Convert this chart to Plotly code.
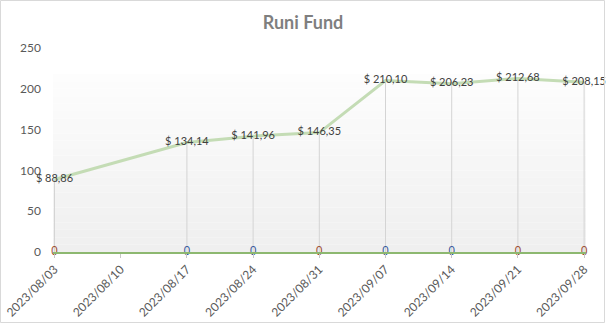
import plotly.graph_objects as go

dates = ["2023-08-03", "2023-08-17", "2023-08-24", "2023-08-31",
         "2023-09-07", "2023-09-14", "2023-09-21", "2023-09-28"]
values = [88.86, 134.14, 141.96, 146.35, 210.10, 206.23, 212.68, 208.15]
zero_values = [0, 0, 0, 0, 0, 0, 0, 0]
zero_colors = ["#9C4A2E", "#34569C", "#34569C", "#9C4A2E",
               "#34569C", "#34569C", "#9C4A2E", "#9C4A2E"]
tick_dates = ["2023-08-03", "2023-08-10", "2023-08-17", "2023-08-24", "2023-08-31",
              "2023-09-07", "2023-09-14", "2023-09-21", "2023-09-28"]
tick_labels = [d.replace("-", "/") for d in tick_dates]
y_ticks = [0, 50, 100, 150, 200, 250]

FONT = "Lato"
W, H = 606, 324
L, R, T, B = 53, 20, 48, 72
pw, ph = W - L - R, H - T - B

fig = go.Figure()

# gradient plot background (top of visible area ~ y=74px)
top_frac = (H - B - 74) / ph
n = 24
for i in range(n):
    f0 = top_frac * i / n
    f1 = top_frac * (i + 1) / n
    t = i / (n - 1)
    c = int(round(0xEF + (0xFD - 0xEF) * t))
    fig.add_shape(type="rect", xref="paper", yref="paper", x0=0, x1=1, y0=f0, y1=f1,
                  fillcolor=f"rgb({c},{c},{c})", line_width=0, layer="below")

# drop lines
dx, dy = [], []
for d, v in zip(dates, values):
    dx += [d, d, None]
    dy += [0, v, None]
fig.add_trace(go.Scatter(x=dx, y=dy, mode="lines", line=dict(color="#d4d4d4", width=1),
                         hoverinfo="skip", showlegend=False))

fig.add_trace(go.Scatter(
    x=dates, y=values, mode="lines+text",
    line=dict(color="#C4DCB5", width=3),
    text=["$ " + f"{v:.2f}".replace(".", ",") for v in values],
    textposition="middle center", cliponaxis=False,
    textfont=dict(family=FONT, size=11, color="#404040"),
    showlegend=False))

fig.add_trace(go.Scatter(
    x=dates, y=zero_values, mode="text",
    text=[str(v) for v in zero_values],
    textposition="middle center", cliponaxis=False,
    textfont=dict(family="Open Sans", size=12, color=zero_colors),
    showlegend=False))

# chart border
fig.add_shape(type="rect", xref="paper", yref="paper",
              x0=-(L - 0.5) / pw, x1=1 + (R - 1.5) / pw,
              y0=-(B - 1.5) / ph, y1=1 + (T - 0.5) / ph,
              line=dict(color="#d9d9d9", width=1), fillcolor="rgba(0,0,0,0)")

fig.update_layout(
    width=W, height=H,
    margin=dict(l=L, r=R, t=T, b=B),
    paper_bgcolor="white", plot_bgcolor="rgba(0,0,0,0)",
    title=dict(text="<b>Runi Fund</b>", x=0.5, xanchor="center", y=1 - 23 / H, yanchor="middle",
               font=dict(family=FONT, size=18, color="#7f7f7f")),
    xaxis=dict(type="date", range=["2023-08-02 20:10", "2023-09-28 04:50"],
               tickvals=tick_dates, ticktext=tick_labels, tickangle=-45, automargin=False,
               showgrid=False, zeroline=False, showline=True, linecolor="#8DB870", linewidth=1.5,
               ticks="outside", ticklen=4, tickcolor="#c8c8c8",
               tickfont=dict(family=FONT, size=12, color="#595959")),
    yaxis=dict(range=[0, 250], tickvals=y_ticks, showgrid=False, zeroline=False, automargin=False,
               showline=False, ticks="", ticklabelstandoff=11,
               tickfont=dict(family=FONT, size=12, color="#595959")),
)

fig.write_html("out.html")
